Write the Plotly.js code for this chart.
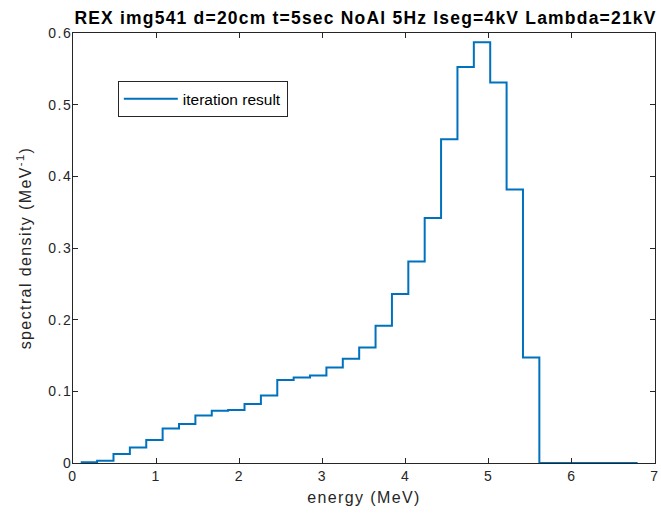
<!DOCTYPE html>
<html>
<head>
<meta charset="utf-8">
<script src="https://cdn.plot.ly/plotly-3.0.1.min.js"></script>
<style>
html,body{margin:0;padding:0;background:#fff;}
#chart{width:661px;height:515px;}
#chart .gtitle{letter-spacing:1.2px;}
#chart .xtitle,#chart .ytitle{letter-spacing:1.4px;}
#chart .xtick text,#chart .ytick text{letter-spacing:1.5px;}
</style>
</head>
<body>
<div id="chart"></div>
<script>
// Bin edges (MeV)
const energyEdges = [0.093, 0.290, 0.487, 0.684, 0.881, 1.078, 1.275, 1.472, 1.669, 1.866,
  2.063, 2.260, 2.457, 2.654, 2.851, 3.048, 3.245, 3.442, 3.639, 3.836,
  4.033, 4.230, 4.427, 4.624, 4.821, 5.018, 5.215, 5.412, 5.609, 5.806,
  6.003, 6.200, 6.397, 6.594, 6.791];
// Spectral density per bin (MeV^-1); last entry closes the stairs
const spectralDensity = [0.001, 0.003, 0.0126, 0.0218, 0.032, 0.048, 0.0544, 0.0664, 0.073, 0.074,
  0.0823, 0.0943, 0.1158, 0.1194, 0.1222, 0.1333, 0.1455, 0.1612, 0.1915, 0.2357,
  0.2812, 0.3417, 0.4519, 0.5527, 0.5872, 0.5308, 0.3816, 0.1473, 0, 0,
  0, 0, 0, 0, 0];
const seriesName = 'iteration result';
const xTicks = [0, 1, 2, 3, 4, 5, 6, 7];
const yTicks = [0, 0.1, 0.2, 0.3, 0.4, 0.5, 0.6];

const axisColor = '#262626';
const fontFam = '"Liberation Sans", Arial, sans-serif';

const trace = {
  x: energyEdges, y: spectralDensity, type: 'scatter', mode: 'lines',
  line: {shape: 'hv', color: '#0072BD', width: 2},
  name: seriesName, showlegend: true
};

const layout = {
  width: 661, height: 515,
  margin: {l: 73, r: 6, t: 33, b: 52},
  paper_bgcolor: '#fff', plot_bgcolor: '#fff',
  font: {family: fontFam, size: 14, color: axisColor},
  title: {text: '<b>REX img541 d=20cm t=5sec NoAl 5Hz Iseg=4kV Lambda=21kV</b>',
    font: {family: fontFam, size: 17.5, color: '#000'},
    x: 0.553, xanchor: 'center', y: 0.965, yanchor: 'middle'},
  xaxis: {range: [0, 7], tickvals: xTicks, ticktext: xTicks.map(String),
    showline: true, mirror: 'ticks', linecolor: axisColor, linewidth: 1,
    ticks: 'inside', ticklen: 5, tickcolor: axisColor, showgrid: false, zeroline: false,
    tickfont: {size: 14, color: axisColor},
    title: {text: 'energy (MeV)', font: {size: 16, color: axisColor}, standoff: 9}},
  yaxis: {range: [0, 0.6], tickvals: yTicks, ticktext: yTicks.map(String),
    showline: true, mirror: 'ticks', linecolor: axisColor, linewidth: 1,
    ticks: 'inside', ticklen: 5, tickcolor: axisColor, showgrid: false, zeroline: false,
    tickfont: {size: 14, color: axisColor}, ticklabelstandoff: -3,
    title: {text: 'spectral density (MeV<sup>-1</sup>)', font: {size: 16, color: axisColor}, standoff: 17}},
  legend: {x: 0.077, y: 0.888, xanchor: 'left', yanchor: 'top',
    bgcolor: '#fff', bordercolor: axisColor, borderwidth: 1,
    font: {size: 15.5, color: '#000'}, itemwidth: 54, tracegroupgap: 0}
};

Plotly.newPlot('chart', [trace], layout, {displayModeBar: false, staticPlot: true});
</script>
</body>
</html>
